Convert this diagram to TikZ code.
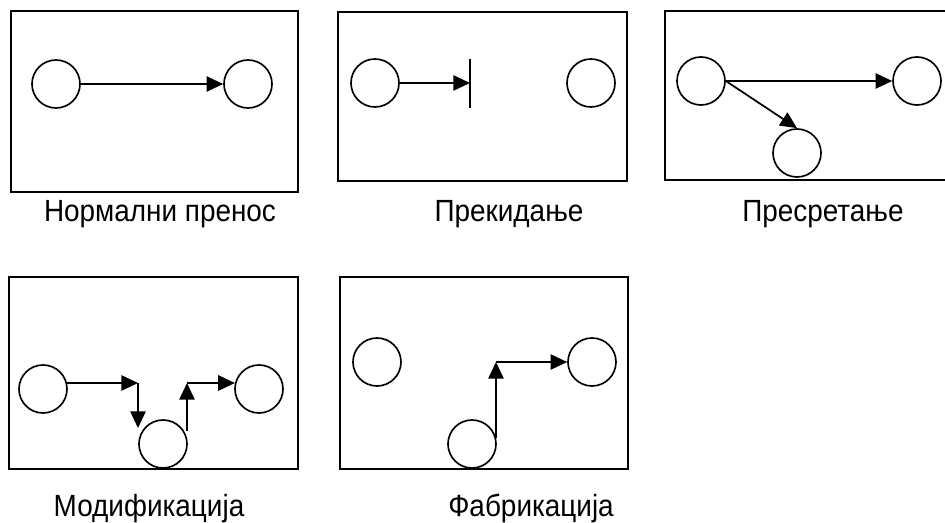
\documentclass[tikz,border=0pt]{standalone}
\usepackage{fontspec}
\setmainfont{Liberation Sans}[FakeStretch=0.91]
\usetikzlibrary{arrows.meta}
\begin{document}
\begin{tikzpicture}[x=0.75pt,y=-0.75pt,
  frame/.style={line width=1.5pt},
  station/.style={circle,draw,line width=1.25pt,minimum size=36pt,inner sep=0pt},
  flow/.style={line width=1.3pt,-{Triangle[length=12.5pt,width=11.5pt]}},
  plain/.style={line width=1.3pt},
  caption/.style={anchor=base,inner sep=0pt,font=\fontsize{23pt}{27pt}\selectfont}]
\useasboundingbox (0,0) rectangle (945,523);
% frames
\draw[frame] (11,11) rectangle (298,192);
\draw[frame] (338,12) rectangle (627,181);
\draw[frame] (946,11) -- (665,11) -- (665,180) -- (946,180);
\draw[frame] (9,277) rectangle (298,469);
\draw[frame] (340,277) rectangle (628,469);
% box 1
\node[station] (a1) at (56,84) {};
\node[station] (b1) at (248,84) {};
\draw[flow] (a1) -- (b1);
% box 2
\node[station] (a2) at (375,83) {};
\node[station] (b2) at (591,83) {};
\coordinate (bar) at (470,83);
\coordinate (bart) at (470,59);
\coordinate (barb) at (470,108);
\draw[flow] (a2) -- (bar);
\draw[plain] (bart) -- (barb);
% box 3
\node[station] (a3) at (701,81) {};
\node[station] (b3) at (917,81) {};
\node[station] (c3) at (797,153) {};
\draw[flow] (a3) -- (b3);
\draw[flow] (a3.east) -- (c3.north);
% box 4
\node[station] (a4) at (43,389) {};
\node[station] (b4) at (259,389) {};
\node[station] (c4) at (163,444) {};
\coordinate (k1) at (138,383);
\coordinate (k1e) at (138,428);
\coordinate (k2s) at (187,431);
\coordinate (k2) at (187,383);
\draw[flow] (a4.14) -- (k1);
\draw[flow] (k1) -- (k1e);
\draw[flow] (k2s) -- (k2);
\draw[flow] (k2) -- (b4.166);
% box 5
\node[station] (a5) at (377,362) {};
\node[station] (b5) at (592,362) {};
\node[station] (c5) at (472,444) {};
\coordinate (k5) at (c5.15 |- b5.west);
\draw[flow] (c5.15) -- (k5);
\draw[flow] (k5) -- (b5.west);
% captions
\node[caption] (l1) at (160,222) {Нормални пренос};
\node[caption] (l2) at (509,222) {Прекидање};
\node[caption] (l3) at (823,222) {Пресретање};
\node[caption] (l4) at (149,516) {Модификација};
\node[caption] (l5) at (531,516) {Фабрикација};
\end{tikzpicture}
\end{document}
